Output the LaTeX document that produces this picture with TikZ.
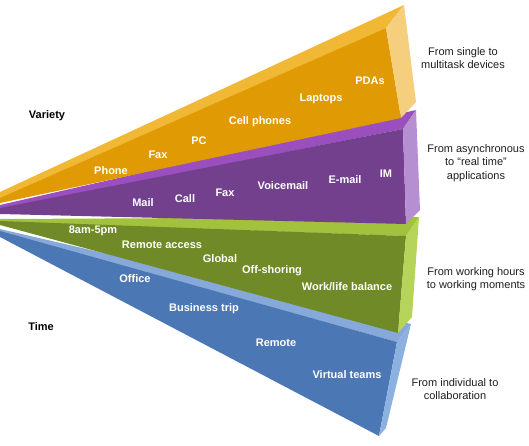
\documentclass[tikz,border=0pt]{standalone}
\usepackage{fontspec}
\setmainfont{Liberation Sans}
\definecolor{ytop}{RGB}{241,184,54}
\definecolor{yfront}{RGB}{224,154,4}
\definecolor{yside}{RGB}{245,206,126}
\definecolor{ptop}{RGB}{155,79,190}
\definecolor{pfront}{RGB}{115,64,142}
\definecolor{pside}{RGB}{182,143,210}
\definecolor{gtop}{RGB}{162,193,60}
\definecolor{gfront}{RGB}{111,138,38}
\definecolor{gside}{RGB}{182,212,90}
\definecolor{btop}{RGB}{134,169,218}
\definecolor{bfront}{RGB}{76,119,181}
\definecolor{bside}{RGB}{140,176,224}
\definecolor{txt}{RGB}{30,30,30}
\tikzset{
  item/.style={text=white,font=\fontsize{11}{12}\selectfont\bfseries,inner sep=0pt},
  axis/.style={text=black,font=\fontsize{11}{13}\selectfont\bfseries,inner sep=0pt},
  note/.style={text=txt,font=\fontsize{11}{13.4}\selectfont,align=center,inner sep=0pt}
}
\begin{document}
\begin{tikzpicture}[x=1pt,y=-1pt]
\useasboundingbox (0,0) rectangle (529,446);
% blue wedge
\fill[btop] (0,229) -- (411,324) -- (397,342) -- (0,232) -- cycle;
\fill[bfront] (0,231) -- (397,342) -- (379,436) -- (0,237) -- cycle;
\fill[bside] (411,324) -- (397,342) -- (379,436) -- (386,428) -- cycle;
% green wedge
\fill[gtop] (0,219) -- (419,217) -- (406,236) -- (0,222) -- cycle;
\fill[gfront] (0,221) -- (406,236) -- (398,333) -- (0,225) -- cycle;
\fill[gside] (419,217) -- (406,236) -- (398,333) -- (412,317) -- cycle;
% purple wedge
\fill[ptop] (0,205) -- (416,110) -- (403,129) -- (0,209) -- cycle;
\fill[pfront] (0,208) -- (403,129) -- (406,224) -- (0,214) -- cycle;
\fill[pside] (416,110) -- (403,129) -- (406,224) -- (420,210) -- cycle;
% yellow wedge
\fill[ytop] (0,192) -- (15,185) -- (404,5) -- (386,28) -- (0,199) -- cycle;
\fill[yfront] (0,198) -- (386,28) -- (401,118) -- (0,203) -- cycle;
\fill[yside] (404,5) -- (386,28) -- (401,118) -- (416,102) -- cycle;
% yellow labels
\node[item] (phone) at (111,171) {Phone};
\node[item] (fax1) at (158,155) {Fax};
\node[item] (pc) at (199,141) {PC};
\node[item] (cell) at (260,122) {Cell phones};
\node[item] (laptops) at (321,99) {Laptops};
\node[item] (pdas) at (370,81) {PDAs};
% purple labels
\node[item] (mail) at (143,203) {Mail};
\node[item] (call) at (185,199) {Call};
\node[item] (fax2) at (225,193) {Fax};
\node[item] (voicemail) at (283,186) {Voicemail};
\node[item] (email) at (345,180) {E-mail};
\node[item] (im) at (386,174) {IM};
% green labels
\node[item] (hours) at (93,231) {8am-5pm};
\node[item] (remacc) at (162,245) {Remote access};
\node[item] (global) at (220,259) {Global};
\node[item] (offsh) at (272,271) {Off-shoring};
\node[item] (worklife) at (347,287) {Work/life balance};
% blue labels
\node[item] (office) at (135,279) {Office};
\node[item] (trip) at (204,309) {Business trip};
\node[item] (remote) at (276,343) {Remote};
\node[item] (virtual) at (347,375) {Virtual teams};
% axis labels
\node[axis] (variety) at (47,116) {Variety};
\node[axis] (time) at (41,327) {Time};
% notes
\node[note] (n1) at (463,58) {From single to\\multitask devices};
\node[note] (n2) at (476,163) {From asynchronous\\to “real time”\\applications};
\node[note] (n3) at (476,279) {From working hours\\to working moments};
\node[note] (n4) at (455,389) {From individual to\\collaboration};
\end{tikzpicture}
\end{document}
